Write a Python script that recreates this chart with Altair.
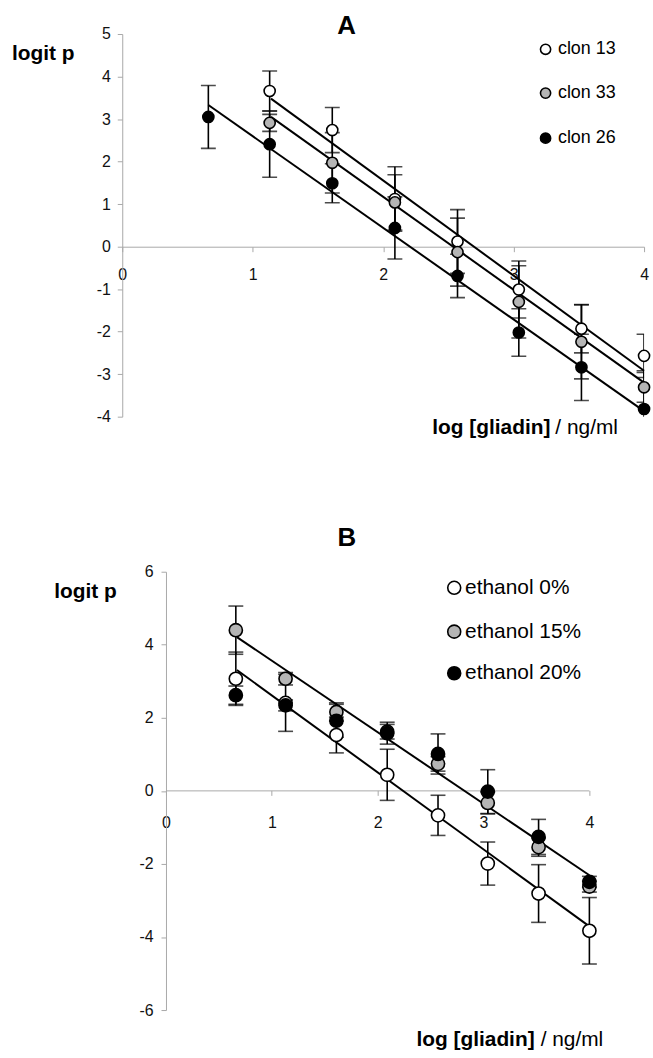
import altair as alt
import pandas as pd

FONT = "Liberation Sans"

# ---------------- Panel A data ----------------
A_x = [0.66, 1.13, 1.61, 2.09, 2.57, 3.04, 3.52, 4.0]
A_series = ["clon 13", "clon 33", "clon 26"]
A_fill = ["white", "#b5b5b5", "black"]
A_clon13_y = [None, 3.66, 2.74, 1.12, 0.12, -1.01, -1.93, -2.57]
A_clon13_err = [None, 0.47, 0.53, 0.76, 0.75, 0.67, 0.57, 0.51]
A_clon33_y = [None, 2.91, 1.97, 1.04, -0.13, -1.30, -2.24, -3.31]
A_clon33_err = [None, 0.20, 0.71, 0.65, 0.80, 0.85, 0.87, 0.35]
A_clon26_y = [3.05, 2.41, 1.49, 0.44, -0.69, -2.02, -2.84, -3.82]
A_clon26_err = [0.74, 0.78, 0.46, 0.73, 0.51, 0.56, 0.78, 0.90]
# fitted straight lines (start / end)
A_fit_x1 = [1.14, 1.14, 0.66]
A_fit_y1 = [3.48, 3.05, 3.33]
A_fit_x2 = [4.0, 4.0, 4.0]
A_fit_y2 = [-2.92, -3.20, -3.87]

# ---------------- Panel B data ----------------
B_x = [0.66, 1.13, 1.61, 2.09, 2.57, 3.04, 3.52, 4.0]
B_series = ["ethanol 0%", "ethanol 15%", "ethanol 20%"]
B_fill = ["white", "#b5b5b5", "black"]
B_eth0_y = [3.07, 2.41, 1.53, 0.44, -0.67, -1.99, -2.81, -3.83]
B_eth0_err = [0.73, 0.78, 0.49, 0.70, 0.55, 0.59, 0.79, 0.91]
B_eth15_y = [4.40, 3.07, 2.16, 1.62, 0.74, -0.33, -1.54, -2.62]
B_eth15_err = [0.66, 0.17, 0.25, 0.20, 0.20, 0.30, 0.25, 0.15]
B_eth20_y = [2.62, 2.34, 1.92, 1.58, 1.01, -0.02, -1.26, -2.49]
B_eth20_err = [0.25, 0.15, 0.45, 0.30, 0.55, 0.60, 0.48, 0.15]
B_fit_x1 = [0.67, 0.67]
B_fit_y1 = [3.31, 4.21]
B_fit_x2 = [4.0, 4.0]
B_fit_y2 = [-3.71, -2.31]

A_xticks = [0, 1, 2, 3, 4]
A_yticks = [-4, -3, -2, -1, 0, 1, 2, 3, 4, 5]
B_xticks = [0, 1, 2, 3, 4]
B_yticks = [-6, -4, -2, 0, 2, 4, 6]

AXIS_GREY = "#a8a8a8"
LABEL_COL = "#111111"


def points_df(xs, ys, errs, name):
    rows = []
    for x, y, e in zip(xs, ys, errs):
        if y is None:
            continue
        rows.append({"x": x, "y": y, "lo": y - e, "hi": y + e, "s": name})
    return pd.DataFrame(rows)


def caps_df(df):
    a = df[["x", "lo"]].rename(columns={"lo": "c"})
    b = df[["x", "hi"]].rename(columns={"hi": "c"})
    return pd.concat([a, b], ignore_index=True)


def make_panel(xdom, ydom, width, height, xaxis, yaxis, series_dfs, fills,
               fit_df, marker_size, legend_df, legend_size, legend_font,
               texts, clip_err, extra_layers):
    def X(f):
        return alt.X(f, type="quantitative", scale=alt.Scale(domain=xdom, nice=False, zero=False), axis=xaxis)

    def Y(f):
        return alt.Y(f, type="quantitative", scale=alt.Scale(domain=ydom, nice=False, zero=False), axis=yaxis)

    layers = list(extra_layers(X, Y))
    # fitted lines
    layers.append(
        alt.Chart(fit_df).mark_rule(color="black", strokeWidth=2).encode(
            x=X("x1"), y=Y("y1"), x2="x2", y2="y2")
    )
    allp = pd.concat(series_dfs, ignore_index=True)
    layers.append(
        alt.Chart(allp).mark_rule(color="black", strokeWidth=1.6, clip=clip_err).encode(
            x=X("x"), y=Y("lo"), y2="hi")
    )
    layers.append(
        alt.Chart(caps_df(allp)).mark_tick(color="black", orient="horizontal", size=15,
                                           thickness=1.6, clip=clip_err).encode(
            x=X("x"), y=Y("c"))
    )
    for df, fill in zip(series_dfs, fills):
        layers.append(
            alt.Chart(df).mark_point(shape="circle", filled=True, fill=fill, stroke="black",
                                     strokeWidth=1.6, size=marker_size, opacity=1).encode(
                x=X("x"), y=Y("y"))
        )
    # legend
    for i, fill in enumerate(fills):
        sub = legend_df.iloc[[i]]
        layers.append(
            alt.Chart(sub).mark_point(shape="circle", filled=True, fill=fill, stroke="black",
                                      strokeWidth=1.6, size=legend_size, opacity=1).encode(
                x=X("mx"), y=Y("y"))
        )
    layers.append(
        alt.Chart(legend_df).mark_text(align="left", baseline="middle", font=FONT,
                                       fontSize=legend_font, color="black").encode(
            x=X("tx"), y=Y("y"), text="label:N")
    )
    for t in texts:
        tdf = pd.DataFrame([{"x": t["x"], "y": t["y"], "t": t["text"]}])
        layers.append(
            alt.Chart(tdf).mark_text(align=t["align"], baseline="alphabetic", font=FONT,
                                     fontSize=t["size"], fontWeight=t["weight"], color="black",
                                     opacity=t.get("opacity", 1)).encode(
                x=X("x"), y=Y("y"), text="t:N")
        )
    return alt.layer(*layers).properties(width=width, height=height)


def axis(values, offset, label_padding, domain=True):
    return alt.Axis(values=values, labelExpr="'' + datum.value", offset=offset, tickSize=5,
                    labelPadding=label_padding, domain=domain, domainColor=AXIS_GREY,
                    tickColor=AXIS_GREY, domainWidth=1, tickWidth=1, labelFont=FONT,
                    labelFontSize=16, labelColor=LABEL_COL, grid=False, title=None,
                    labelOverlap=False, labelFlush=False)


# ---------------- Panel A ----------------
A_dfs = [
    points_df(A_x, A_clon13_y, A_clon13_err, A_series[0]),
    points_df(A_x, A_clon33_y, A_clon33_err, A_series[1]),
    points_df(A_x, A_clon26_y, A_clon26_err, A_series[2]),
]
A_fit = pd.DataFrame({"x1": A_fit_x1, "y1": A_fit_y1, "x2": A_fit_x2, "y2": A_fit_y2})
A_leg = pd.DataFrame({"label": A_series, "mx": [3.245] * 3, "tx": [3.34] * 3,
                      "y": [4.64, 3.61, 2.55]})
A_texts = [
    {"x": 1.72, "y": 4.99, "text": "A", "align": "center", "size": 26, "weight": "bold"},
    {"x": -0.845, "y": 4.40, "text": "logit p", "align": "left", "size": 21, "weight": "bold"},
    {"x": 2.376, "y": -4.40, "text": "log [gliadin]", "align": "left", "size": 21, "weight": "bold"},
    {"x": 3.80, "y": -4.40, "text": "/ ng/ml", "align": "right", "size": 21, "weight": "normal"},
]
panelA = make_panel(
    xdom=[0, 4], ydom=[-4, 5], width=525, height=385,
    xaxis=axis(A_xticks, -171, 15), yaxis=axis(A_yticks, 0, 7),
    series_dfs=A_dfs, fills=A_fill, fit_df=A_fit, marker_size=125,
    legend_df=A_leg, legend_size=105, legend_font=18, texts=A_texts, clip_err=True,
    extra_layers=lambda X, Y: [],
)

# ---------------- Panel B ----------------
B_dfs = [
    points_df(B_x, B_eth0_y, B_eth0_err, B_series[0]),
    points_df(B_x, B_eth15_y, B_eth15_err, B_series[1]),
    points_df(B_x, B_eth20_y, B_eth20_err, B_series[2]),
]
B_fit = pd.DataFrame({"x1": B_fit_x1, "y1": B_fit_y1, "x2": B_fit_x2, "y2": B_fit_y2})
B_leg = pd.DataFrame({"label": B_series, "mx": [2.723] * 3, "tx": [2.826] * 3,
                      "y": [5.56, 4.36, 3.22]})
B_texts = [
    {"x": 1.709, "y": 6.70, "text": "B", "align": "center", "size": 26, "weight": "bold"},
    {"x": -0.76, "y": 5.29, "text": "logit p", "align": "center", "size": 21, "weight": "bold"},
    {"x": -1.455, "y": 5.29, "text": "logit p", "align": "left", "size": 21, "weight": "bold",
     "opacity": 0},
    {"x": 2.366, "y": -6.975, "text": "log [gliadin]", "align": "left", "size": 21, "weight": "bold"},
    {"x": 4.131, "y": -6.975, "text": "/ ng/ml", "align": "right", "size": 21, "weight": "normal"},
]


def b_axis_line(X, Y):
    return [
        alt.Chart(pd.DataFrame({"x1": [0.0], "x2": [4.0], "y": [0.0]})).mark_rule(
            color=AXIS_GREY, strokeWidth=1).encode(x=X("x1"), x2="x2", y=Y("y"))
    ]


panelB = make_panel(
    xdom=[-0.413, 4], ydom=[-6, 6], width=470, height=441,
    xaxis=axis(B_xticks, -221, 19, domain=False), yaxis=axis(B_yticks, -44, 8),
    series_dfs=B_dfs, fills=B_fill, fit_df=B_fit, marker_size=175,
    legend_df=B_leg, legend_size=170, legend_font=21, texts=B_texts, clip_err=False,
    extra_layers=b_axis_line,
)

chart = alt.vconcat(panelA, panelB, spacing=87).properties(
    padding={"left": 12, "top": 10, "right": 0, "bottom": 0}
).configure(font=FONT).configure_view(stroke=None)

chart.save("out.html", embed_options={"renderer": "svg", "actions": False})
